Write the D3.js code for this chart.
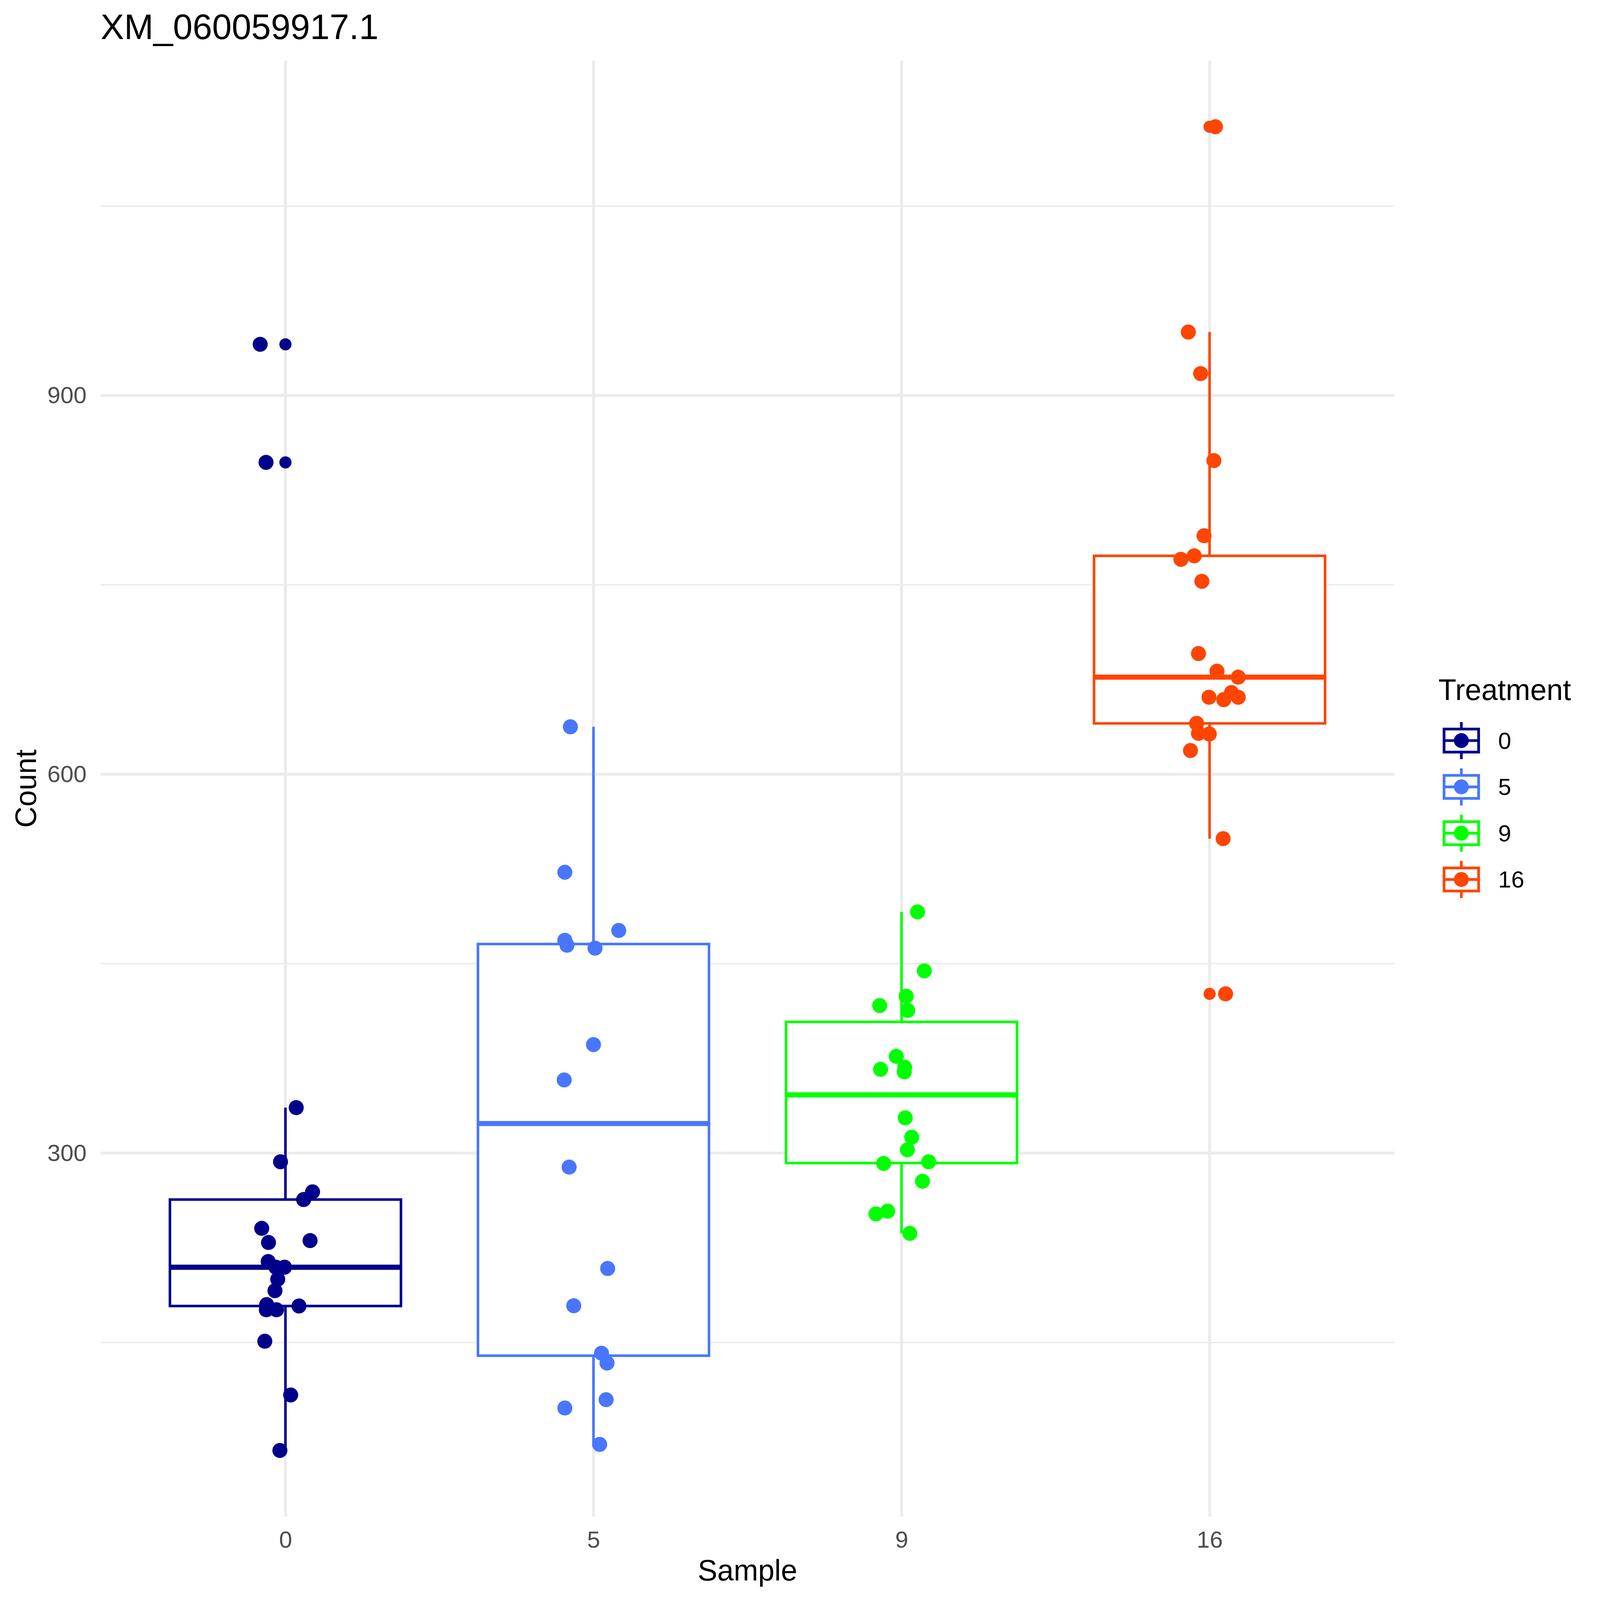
<!DOCTYPE html>
<html>
<head>
<meta charset="utf-8">
<script src="https://cdn.jsdelivr.net/npm/d3@7"></script>
<style>
  html, body { margin: 0; padding: 0; background: #fff; overflow: hidden; }
  svg { display: block; width: 100vw; height: 100vh; }
  text { font-family: "Liberation Sans", Arial, sans-serif; }
</style>
</head>
<body>
<div id="chart"></div>
<script>
// values, one array per treatment
let samples = ["0", "5", "9", "16"];
let colors = ["#00008B", "#4876FF", "#00FF00", "#FF4500"];

let count0 = [940.5, 847.0, 336.0, 293.1, 269.3, 263.2, 240.4, 230.7, 229.2, 214.1, 209.6,
              209.6, 200.1, 191.0, 180.0, 175.9, 175.9, 178.9, 151.0, 108.4, 64.5];
let count5 = [637.6, 522.4, 476.3, 468.5, 464.6, 462.3, 385.9, 357.9, 288.9, 208.6, 179.1,
              141.5, 133.7, 104.7, 98.1, 69.3];
let count9 = [491.0, 444.3, 424.2, 416.8, 413.0, 376.6, 368.0, 366.3, 364.3, 327.9, 312.6,
              302.6, 291.8, 293.1, 277.7, 254.0, 251.8, 236.4];
let count16 = [1112.8, 950.2, 917.3, 848.4, 788.9, 773.0, 770.2, 752.8, 695.6, 681.6, 676.9,
               664.7, 661.0, 661.0, 659.1, 640.3, 632.4, 631.9, 618.8, 549.0, 426.1];

// horizontal jitter of each point, in category widths
let jitter0 = [-0.082, -0.063, 0.035, -0.016, 0.088, 0.059, -0.077, 0.080, -0.055, -0.056, -0.031,
               -0.003, -0.025, -0.034, -0.061, -0.062, -0.029, 0.044, -0.067, 0.017, -0.018];
let jitter5 = [-0.075, -0.093, 0.082, -0.093, -0.086, 0.005, 0.000, -0.095, -0.079, 0.046, -0.064,
               0.026, 0.044, 0.041, -0.093, 0.020];
let jitter9 = [0.052, 0.074, 0.015, -0.071, 0.020, -0.017, 0.010, -0.068, 0.009, 0.012, 0.033,
               0.019, -0.058, 0.088, 0.068, -0.045, -0.083, 0.027];
let jitter16 = [0.019, -0.069, -0.029, 0.014, -0.018, -0.050, -0.093, -0.025, -0.036, 0.024, 0.093,
                0.071, -0.002, 0.093, 0.046, -0.042, -0.036, -0.001, -0.062, 0.044, 0.052];

let majorTicks = [300, 600, 900];
let minorTicks = [150, 450, 750, 1050];

let counts = [count0, count5, count9, count16];
let jitters = [jitter0, jitter5, jitter9, jitter16];

let w = 5000;
let h = 5000;
let panelLeft = 314.4, panelRight = 4357.5, panelTop = 189.3, panelBottom = 4739.5;

let svg = d3.select("#chart")
    .append("svg")
    .attr("viewBox", "0 0 " + w + " " + h)
    .attr("preserveAspectRatio", "xMidYMid meet");

svg.append("rect").attr("width", w).attr("height", h).attr("fill", "#fff");

let points = [];
counts.forEach(function (vals, i) {
    vals.forEach(function (v, j) {
        points.push({ g: i, value: v, jit: jitters[i][j] });
    });
});

// y limits expanded by 5% like ggplot
let ext = d3.extent(points, d => d.value);
let pad = (ext[1] - ext[0]) * 0.05;

let x = d3.scalePoint()
    .domain(samples)
    .range([panelLeft, panelRight])
    .padding(0.6);

let y = d3.scaleLinear()
    .domain([ext[0] - pad, ext[1] + pad])
    .range([panelBottom, panelTop]);

let step = x.step();

//grid
svg.selectAll(".minor")
    .data(minorTicks)
    .enter()
    .append("line")
    .attr("x1", panelLeft).attr("x2", panelRight)
    .attr("y1", d => y(d)).attr("y2", d => y(d))
    .attr("stroke", "#EBEBEB")
    .attr("stroke-width", 4.5);

svg.selectAll(".major")
    .data(majorTicks)
    .enter()
    .append("line")
    .attr("x1", panelLeft).attr("x2", panelRight)
    .attr("y1", d => y(d)).attr("y2", d => y(d))
    .attr("stroke", "#EBEBEB")
    .attr("stroke-width", 9);

svg.selectAll(".vgrid")
    .data(samples)
    .enter()
    .append("line")
    .attr("x1", d => x(d)).attr("x2", d => x(d))
    .attr("y1", panelTop).attr("y2", panelBottom)
    .attr("stroke", "#EBEBEB")
    .attr("stroke-width", 9);

// box stats
let stats = counts.map(function (vals, i) {
    let s = vals.slice().sort(d3.ascending);
    let q1 = d3.quantile(s, 0.25);
    let med = d3.quantile(s, 0.5);
    let q3 = d3.quantile(s, 0.75);
    let iqr = q3 - q1;
    let inside = s.filter(v => v >= q1 - 1.5 * iqr && v <= q3 + 1.5 * iqr);
    return {
        g: i, q1: q1, med: med, q3: q3,
        lo: d3.min(inside), hi: d3.max(inside),
        out: s.filter(v => v < q1 - 1.5 * iqr || v > q3 + 1.5 * iqr)
    };
});

let half = step * 0.375;

let boxes = svg.selectAll(".box")
    .data(stats)
    .enter()
    .append("g");

boxes.append("line")
    .attr("x1", d => x(samples[d.g])).attr("x2", d => x(samples[d.g]))
    .attr("y1", d => y(d.q3)).attr("y2", d => y(d.hi))
    .attr("stroke", d => colors[d.g]).attr("stroke-width", 8);

boxes.append("line")
    .attr("x1", d => x(samples[d.g])).attr("x2", d => x(samples[d.g]))
    .attr("y1", d => y(d.q1)).attr("y2", d => y(d.lo))
    .attr("stroke", d => colors[d.g]).attr("stroke-width", 8);

boxes.append("rect")
    .attr("x", d => x(samples[d.g]) - half)
    .attr("y", d => y(d.q3))
    .attr("width", half * 2)
    .attr("height", d => y(d.q1) - y(d.q3))
    .attr("fill", "#fff")
    .attr("stroke", d => colors[d.g])
    .attr("stroke-width", 8);

boxes.append("line")
    .attr("x1", d => x(samples[d.g]) - half).attr("x2", d => x(samples[d.g]) + half)
    .attr("y1", d => y(d.med)).attr("y2", d => y(d.med))
    .attr("stroke", d => colors[d.g]).attr("stroke-width", 16);

boxes.selectAll(".out")
    .data(d => d.out.map(v => ({ g: d.g, value: v })))
    .enter()
    .append("circle")
    .attr("cx", d => x(samples[d.g]))
    .attr("cy", d => y(d.value))
    .attr("r", 19)
    .attr("fill", d => colors[d.g]);

// jittered points
svg.selectAll(".pt")
    .data(points)
    .enter()
    .append("circle")
    .attr("cx", d => x(samples[d.g]) + d.jit * step)
    .attr("cy", d => y(d.value))
    .attr("r", 23.5)
    .attr("fill", d => colors[d.g]);

// axes
let yAxis = svg.append("g")
    .attr("transform", "translate(" + panelLeft + ",0)")
    .call(d3.axisLeft(y).tickValues(majorTicks).tickSize(0).tickPadding(44));
yAxis.select(".domain").remove();
yAxis.selectAll("text")
    .attr("font-size", 73.3)
    .attr("fill", "#4D4D4D")
    .style("font-family", "'Liberation Sans', Arial, sans-serif");

let xAxis = svg.append("g")
    .attr("transform", "translate(0," + panelBottom + ")")
    .call(d3.axisBottom(x).tickSize(0).tickPadding(44.5));
xAxis.select(".domain").remove();
xAxis.selectAll("text")
    .attr("font-size", 73.3)
    .attr("fill", "#4D4D4D")
    .style("font-family", "'Liberation Sans', Arial, sans-serif");

svg.append("text")
    .text("XM_060059917.1")
    .attr("x", panelLeft)
    .attr("y", 122)
    .attr("font-size", 110)
    .attr("fill", "black");

svg.append("text")
    .text("Sample")
    .attr("x", (panelLeft + panelRight) / 2)
    .attr("y", 4939.5)
    .attr("text-anchor", "middle")
    .attr("font-size", 91.7)
    .attr("fill", "black");

svg.append("text")
    .text("Count")
    .attr("transform", "translate(112," + (panelTop + panelBottom) / 2 + ") rotate(-90)")
    .attr("text-anchor", "middle")
    .attr("font-size", 91.7)
    .attr("fill", "black");

// legend
let legend = svg.append("g");

legend.append("text")
    .text("Treatment")
    .attr("x", 4495)
    .attr("y", 2187)
    .attr("font-size", 91.7)
    .attr("fill", "black");

let keys = legend.selectAll(".key")
    .data(samples)
    .enter()
    .append("g")
    .attr("transform", (d, i) => "translate(4566.7," + (2314.3 + i * 144.7) + ")");

keys.append("line")
    .attr("x1", 0).attr("x2", 0).attr("y1", -58).attr("y2", 58)
    .attr("stroke", (d, i) => colors[i]).attr("stroke-width", 8.5);

keys.append("rect")
    .attr("x", -54).attr("y", -36).attr("width", 108).attr("height", 72)
    .attr("fill", "#fff")
    .attr("stroke", (d, i) => colors[i]).attr("stroke-width", 8.5);

keys.append("line")
    .attr("x1", -54).attr("x2", 54).attr("y1", 0).attr("y2", 0)
    .attr("stroke", (d, i) => colors[i]).attr("stroke-width", 8.5);

keys.append("circle")
    .attr("r", 23.3)
    .attr("fill", (d, i) => colors[i]);

keys.append("text")
    .text(d => d)
    .attr("x", 115)
    .attr("y", 25.5)
    .attr("font-size", 73.3)
    .attr("fill", "black");
</script>
</body>
</html>
